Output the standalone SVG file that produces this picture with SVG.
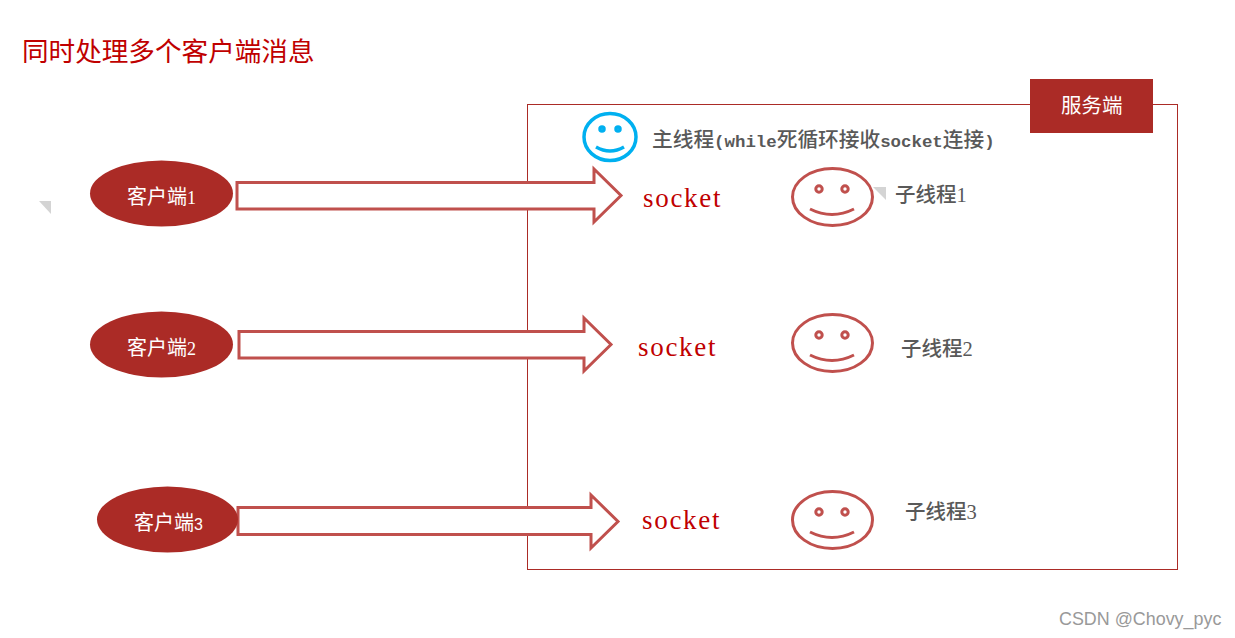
<svg xmlns="http://www.w3.org/2000/svg" width="1235" height="638" viewBox="0 0 1235 638">
<style>
text{font-family:"Liberation Serif","Noto Sans CJK SC",serif}
.client{fill:#ab2b26}
.ct{fill:#fff;font-size:20px}
.small{font-size:18px}
.arrow{fill:#fff;stroke:#c0504d;stroke-width:3}
.sock{fill:#c00000;font-size:27px;letter-spacing:1.7px}
.sub{fill:#595959;font-size:20.5px;font-weight:500}
.main{font-size:20.7px}
.mono{font-family:"Liberation Mono",monospace;font-size:17.4px;font-weight:700}
.face{fill:none;stroke:#c0504d;stroke-width:3}
.blue{fill:none;stroke:#00b0f0;stroke-width:3.5}
.tri{fill:#d4d4d4}
</style>
<rect width="1235" height="638" fill="#fff"/>
<text x="22" y="61" fill="#c00000" font-size="26.6">同时处理多个客户端消息</text>
<g id="server">
<rect x="527.5" y="104.5" width="650" height="465" fill="none" stroke="#ab2b26" stroke-width="1"/>
<rect x="1030" y="79" width="123" height="54" fill="#ab2b26"/>
<text x="1061" y="113" fill="#fff" font-size="20.5">服务端</text>
</g>
<g id="connectors">
<path class="arrow" d="M237 182.500H594V169L621 195.500L594 222V209H237Z"/>
<path class="arrow" d="M239 331.500H584V318L611 344.500L584 371V358H239Z"/>
<path class="arrow" d="M238 507.500H591V495L618 521.500L591 548V534.500H238Z"/>
</g>
<g id="client1"><ellipse class="client" cx="161.500" cy="193.500" rx="71.500" ry="33"/><text class="ct" x="127" y="204">客户端<tspan class="small">1</tspan></text></g>
<g id="client2"><ellipse class="client" cx="161.500" cy="344.500" rx="71.500" ry="33"/><text class="ct" x="127" y="355">客户端<tspan class="small">2</tspan></text></g>
<g id="client3"><ellipse class="client" cx="167.500" cy="519.500" rx="70.500" ry="33"/><text class="ct" x="134" y="530">客户端<tspan class="small" style="font-family:'Liberation Sans',sans-serif;font-size:16px">3</tspan></text></g>
<g id="main-thread">
<ellipse class="blue" cx="610" cy="137" rx="26" ry="23.500"/>
<circle class="blue" cx="602" cy="129" r="2" stroke-width="3"/><circle class="blue" cx="618" cy="129" r="2" stroke-width="3"/>
<path class="blue" d="M596 147Q610 155 624 147"/>
<text class="sub main" x="652" y="147">主线程<tspan class="mono">(while</tspan>死循环接收<tspan class="mono">socket</tspan>连接<tspan class="mono">)</tspan></text>
</g>
<g id="socket1"><text class="sock" x="643" y="207">socket</text></g>
<g id="socket2"><text class="sock" x="638" y="356">socket</text></g>
<g id="socket3"><text class="sock" x="642" y="529">socket</text></g>
<g id="thread1">
<ellipse class="face" cx="832.500" cy="197" rx="40" ry="28.500"/>
<circle class="face" cx="819" cy="189" r="3.200"/><circle class="face" cx="845" cy="189" r="3.200"/>
<path class="face" d="M810 209Q832 220 854 209"/>
<text class="sub" x="895" y="202">子线程1</text>
</g>
<g id="thread2">
<ellipse class="face" cx="832.500" cy="343" rx="40" ry="28.500"/>
<circle class="face" cx="819" cy="335" r="3.200"/><circle class="face" cx="845" cy="335" r="3.200"/>
<path class="face" d="M810 355Q832 366 854 355"/>
<text class="sub" x="901" y="356">子线程2</text>
</g>
<g id="thread3">
<ellipse class="face" cx="832.500" cy="520" rx="40" ry="28.500"/>
<circle class="face" cx="819" cy="512" r="3.200"/><circle class="face" cx="845" cy="512" r="3.200"/>
<path class="face" d="M810 532Q832 543 854 532"/>
<text class="sub" x="905" y="519">子线程3</text>
</g>
<path class="tri" d="M39 201H51V214Z"/>
<path class="tri" d="M873 187H886V200Z"/>
<text x="1059" y="625" fill="#999" font-size="17.9" style="font-family:'Liberation Sans',sans-serif">CSDN @Chovy_pyc</text>
</svg>
